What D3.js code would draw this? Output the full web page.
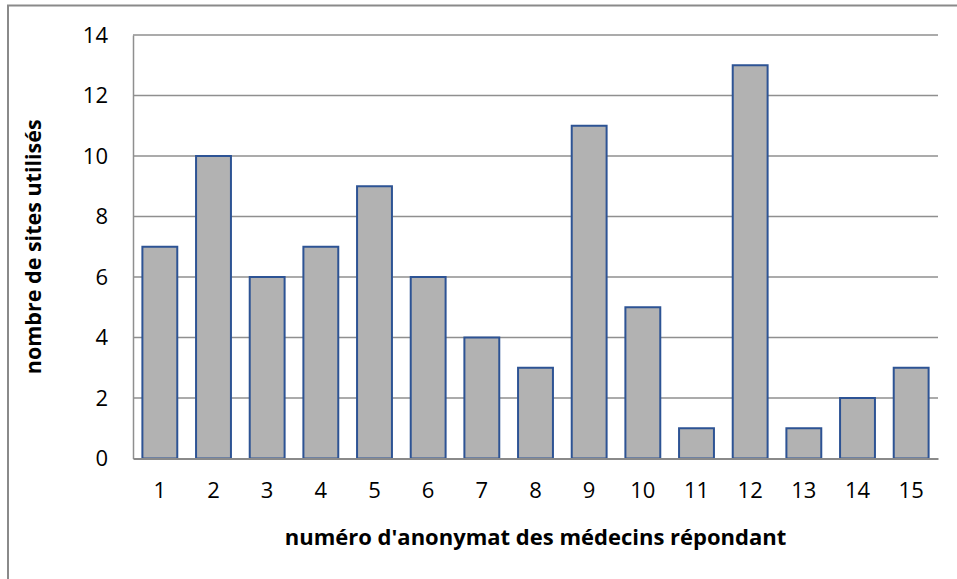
<!DOCTYPE html>
<meta charset="utf-8">
<style>
body { margin: 0; background: #fff; }
* { font-family: "Open Sans", Calibri, sans-serif; }
.grid line { stroke: #8f8f8f; stroke-width: 1.5px; }
.bar { fill: #b2b2b2; stroke: #2d5394; stroke-width: 2px; }
</style>
<body>
<script src="https://cdn.jsdelivr.net/npm/d3@7/dist/d3.min.js"></script>
<script>

// data
var medecins = ["1", "2", "3", "4", "5", "6", "7", "8", "9", "10", "11", "12", "13", "14", "15"];
var sites = [7, 10, 6, 7, 9, 6, 4, 3, 11, 5, 1, 13, 1, 2, 3];
var yTicks = [0, 2, 4, 6, 8, 10, 12, 14];
var xTitle = "numéro d'anonymat des médecins répondant";
var yTitle = "nombre de sites utilisés";

var W = 957, H = 579;
var margin = {top: 35, right: 19, bottom: 120.5, left: 133},
    width = W - margin.left - margin.right,
    height = H - margin.top - margin.bottom;

var svg = d3.select("body").append("svg")
    .attr("width", W)
    .attr("height", H);

// outer chart frame (runs off the right and bottom edges)
svg.append("rect")
    .attr("x", 8).attr("y", 5.5)
    .attr("width", W + 10).attr("height", H + 10)
    .attr("fill", "none")
    .attr("stroke", "#8a8a8a")
    .attr("stroke-width", 2);

var g = svg.append("g")
    .attr("transform", "translate(" + margin.left + "," + margin.top + ")");

var x = d3.scaleBand().domain(medecins).range([0, width]).paddingInner(0.35).paddingOuter(0.175);
var y = d3.scaleLinear().domain([0, 14]).range([height, 0]);

// gridlines
g.append("g")
    .attr("class", "grid")
  .selectAll("line")
  .data(yTicks.filter(function(d) { return d > 0; }))
  .enter().append("line")
    .attr("x1", 0).attr("x2", width)
    .attr("y1", function(d) { return y(d); })
    .attr("y2", function(d) { return y(d); });

// bars
g.selectAll(".bar")
  .data(sites)
  .enter().append("rect")
    .attr("class", "bar")
    .attr("x", function(d, i) { return x(medecins[i]); })
    .attr("width", x.bandwidth())
    .attr("y", function(d) { return y(d); })
    .attr("height", function(d) { return height - y(d); });

// Y axis
var yAxis = g.append("g")
    .call(d3.axisLeft(y).tickValues(yTicks).tickSize(0).tickPadding(25));
yAxis.select(".domain").attr("stroke", "#8f8f8f").attr("stroke-width", 1.5);
yAxis.selectAll("text").attr("font-size", "22px").attr("fill", "#000")
    .style("font-family", "'Open Sans'");

// X axis
var xAxis = g.append("g")
    .attr("transform", "translate(0," + height + ")")
    .call(d3.axisBottom(x).tickSize(0).tickPadding(24));
xAxis.select(".domain").attr("stroke", "#8a8a8a").attr("stroke-width", 2);
xAxis.selectAll("text").attr("font-size", "22px").attr("fill", "#000")
    .style("font-family", "'Open Sans'");

// axis titles
g.append("text")
    .attr("text-anchor", "middle")
    .attr("transform", "translate(" + (width / 2) + "," + (height + 86) + ")")
    .attr("font-size", "22px")
    .attr("font-weight", "bold")
    .text(xTitle);

g.append("text")
    .attr("text-anchor", "middle")
    .attr("transform", "translate(" + -92 + "," + (height / 2) + ")rotate(-90)")
    .attr("font-size", "21.5px")
    .attr("font-weight", "bold")
    .text(yTitle);

</script>
</body>
</html>
